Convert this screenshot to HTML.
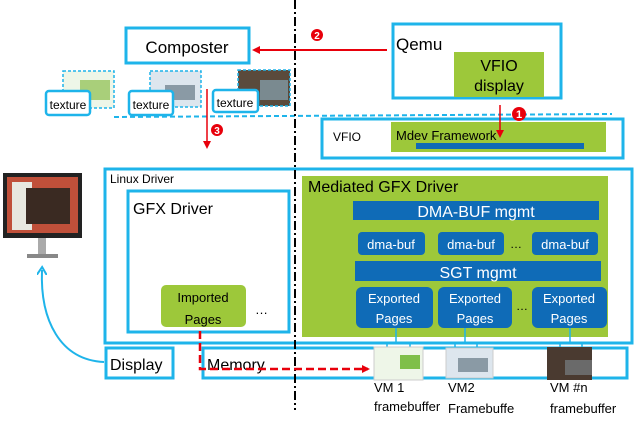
<!DOCTYPE html>
<html><head><meta charset="utf-8"><style>
html,body{margin:0;padding:0;background:#fff;width:634px;height:426px;overflow:hidden}
svg{display:block}
text{font-family:"Liberation Sans",sans-serif}
</style></head><body>
<svg width="634" height="426" viewBox="0 0 634 426" xmlns="http://www.w3.org/2000/svg">
<defs>
<marker id="ar" markerWidth="8" markerHeight="8" refX="6" refY="4" orient="auto" markerUnits="userSpaceOnUse"><path d="M0,0 L8,4 L0,8 z" fill="#e8000b"/></marker>
<marker id="ab" markerWidth="10" markerHeight="10" refX="5" refY="5" orient="auto" markerUnits="userSpaceOnUse"><path d="M0,0 L8,5 L0,10" fill="none" stroke="#1eb4ea" stroke-width="2"/></marker>
</defs>
<g fill="none" stroke="#1eb4ea" stroke-width="3">
<rect x="126" y="28" width="123" height="35"/>
<rect x="393" y="24" width="168" height="74"/>
<rect x="322" y="119" width="301" height="39"/>
<rect x="105" y="169" width="527" height="174"/>
<rect x="128" y="191" width="161" height="141"/>
<rect x="106" y="348" width="67" height="30"/>
<rect x="203" y="348" width="424" height="30"/>
</g>
<line x1="114" y1="117" x2="612" y2="114" stroke="#1eb4ea" stroke-width="2" stroke-dasharray="5,3"/>
<line x1="295" y1="0" x2="295" y2="410" stroke="#000" stroke-width="2" stroke-dasharray="9,3,2,3"/>
<text x="187" y="53" font-size="17" text-anchor="middle">Composter</text>
<text x="396" y="50" font-size="17">Qemu</text>
<rect x="454" y="52" width="90" height="45" fill="#9dc83a"/>
<text x="499" y="71" font-size="16" text-anchor="middle">VFIO</text>
<text x="499" y="91" font-size="16" text-anchor="middle">display</text>
<line x1="387" y1="50" x2="254" y2="50" stroke="#e8000b" stroke-width="2" marker-end="url(#ar)"/>
<circle cx="317" cy="35" r="6" fill="#e8000b"/><text x="317" y="39" font-size="10" fill="#fff" text-anchor="middle" font-weight="bold">2</text>
<text x="333" y="141" font-size="12">VFIO</text>
<rect x="391" y="122" width="215" height="30" fill="#9dc83a"/>
<text x="396" y="140" font-size="13">Mdev Framework</text>
<rect x="416" y="143" width="168" height="6" fill="#0f6bb7"/>
<line x1="500" y1="105" x2="500" y2="136" stroke="#e8000b" stroke-width="1.5" marker-end="url(#ar)"/>
<circle cx="519" cy="114" r="7" fill="#e8000b"/><text x="519" y="118" font-size="11" fill="#fff" text-anchor="middle" font-weight="bold">1</text>
<!-- textures -->
<g stroke="#1eb4ea" stroke-width="1.5" stroke-dasharray="3,2">
<rect x="63" y="71" width="51" height="37" fill="#eef6e8"/>
<rect x="150" y="71" width="51" height="36" fill="#dde6ee"/>
<rect x="238" y="70" width="52" height="36" fill="#5a4a3c"/>
</g>
<rect x="80" y="80" width="30" height="20" fill="#a9cf7a"/>
<rect x="165" y="85" width="30" height="15" fill="#8a9aa5"/>
<rect x="260" y="80" width="28" height="20" fill="#7a8a90"/>
<g fill="#fff" stroke="#1eb4ea" stroke-width="2.5">
<rect x="46" y="91" width="44" height="24" rx="3"/>
<rect x="129" y="91" width="44" height="24" rx="3"/>
<rect x="213" y="90" width="45" height="22" rx="3"/>
</g>
<text x="68" y="109" font-size="12" text-anchor="middle">texture</text>
<text x="151" y="109" font-size="12" text-anchor="middle">texture</text>
<text x="235" y="107" font-size="12" text-anchor="middle">texture</text>
<line x1="207" y1="89" x2="207" y2="147" stroke="#e8000b" stroke-width="1.5" marker-end="url(#ar)"/>
<circle cx="217" cy="130" r="6" fill="#e8000b"/><text x="217" y="134" font-size="10" fill="#fff" text-anchor="middle" font-weight="bold">3</text>
<!-- linux driver -->
<text x="110" y="183" font-size="12">Linux Driver</text>
<text x="133" y="214" font-size="16">GFX Driver</text>
<rect x="161" y="285" width="85" height="42" rx="5" fill="#9dc83a"/>
<text x="203" y="302" font-size="13" text-anchor="middle">Imported</text>
<text x="203" y="324" font-size="13" text-anchor="middle">Pages</text>
<text x="255" y="314" font-size="13">…</text>
<!-- mediated -->
<rect x="302" y="176" width="306" height="161" fill="#9dc83a"/>
<text x="308" y="192" font-size="16">Mediated GFX Driver</text>
<g fill="#0f6bb7">
<rect x="353" y="201" width="246" height="19"/>
<rect x="358" y="232" width="67" height="23" rx="4"/>
<rect x="438" y="232" width="66" height="23" rx="4"/>
<rect x="532" y="232" width="66" height="23" rx="4"/>
<rect x="355" y="261" width="246" height="20"/>
<rect x="356" y="287" width="77" height="41" rx="6"/>
<rect x="438" y="287" width="74" height="41" rx="6"/>
<rect x="532" y="287" width="75" height="41" rx="6"/>
</g>
<g fill="#fff" text-anchor="middle">
<text x="476" y="217" font-size="16">DMA-BUF mgmt</text>
<text x="391" y="249" font-size="13">dma-buf</text>
<text x="471" y="249" font-size="13">dma-buf</text>
<text x="565" y="249" font-size="13">dma-buf</text>
<text x="478" y="278" font-size="16">SGT mgmt</text>
<text x="394" y="303" font-size="13">Exported</text><text x="394" y="323" font-size="13">Pages</text>
<text x="475" y="303" font-size="13">Exported</text><text x="475" y="323" font-size="13">Pages</text>
<text x="569" y="303" font-size="13">Exported</text><text x="569" y="323" font-size="13">Pages</text>
</g>
<text x="510" y="248" font-size="12">…</text>
<text x="516" y="310" font-size="12">…</text>
<g stroke="#1eb4ea" stroke-width="1.5" fill="none">
<path d="M396,328 V342 M387,347 V343 H410 V347"/>
<path d="M465,328 V342 M455,347 V343 H477 V347"/>
<path d="M570,328 V342 M560,347 V343 H582 V347"/>
</g>
<text x="110" y="370" font-size="16">Display</text>
<text x="207" y="370" font-size="16">Memory</text>
<path d="M200,331 V369 H368" fill="none" stroke="#e8000b" stroke-width="2.5" stroke-dasharray="8,4" marker-end="url(#ar)"/>
<rect x="374" y="347" width="49" height="33" fill="#eef6e8" stroke="#ccc"/>
<rect x="400" y="355" width="20" height="14" fill="#7fbf4a"/>
<rect x="446" y="348" width="47" height="30" fill="#dde6ee" stroke="#ccc"/>
<rect x="458" y="358" width="30" height="14" fill="#8a9aa5"/>
<rect x="547" y="347" width="45" height="33" fill="#4a3a30"/>
<rect x="565" y="360" width="27" height="15" fill="#6a6a6a"/>
<g font-size="13">
<text x="374" y="392">VM 1</text><text x="374" y="411">framebuffer</text>
<text x="448" y="392">VM2</text><text x="448" y="413">Framebuffe</text>
<text x="550" y="392">VM #n</text><text x="550" y="413">framebuffer</text>
</g>
<!-- monitor -->
<rect x="3" y="173" width="79" height="65" fill="#222"/>
<rect x="7" y="177" width="71" height="56" fill="#c0503a"/>
<rect x="12" y="182" width="20" height="48" fill="#e8e8e0"/>
<rect x="26" y="188" width="44" height="36" fill="#3a2a22"/>
<rect x="38" y="238" width="8" height="16" fill="#aaa"/>
<rect x="27" y="254" width="31" height="4" fill="#888"/>
<path d="M104,362 C60,360 40,320 42,270" fill="none" stroke="#1eb4ea" stroke-width="2" marker-end="url(#ab)"/>
</svg>
</body></html>
